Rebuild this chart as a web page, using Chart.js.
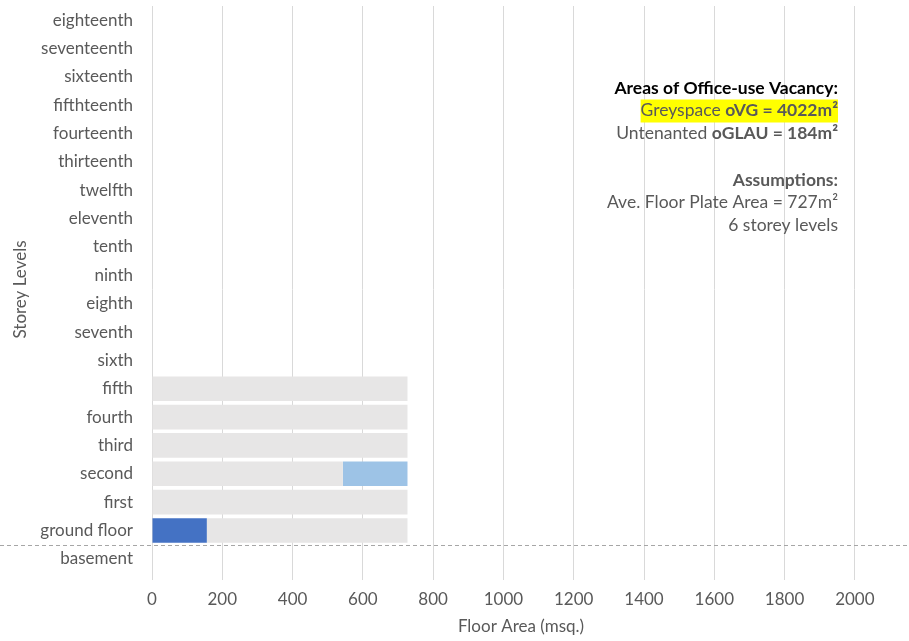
<!DOCTYPE html>
<html>
<head>
<meta charset="utf-8">
<script src="https://cdn.jsdelivr.net/npm/chart.js@4"></script>
<style>
  html, body { margin: 0; padding: 0; background: #fff; }
  #wrap { width: 909px; height: 641px; }
</style>
</head>
<body>
<div id="wrap"><canvas id="floorChart" width="909" height="641"></canvas></div>
<script>
const storeys = ["eighteenth","seventeenth","sixteenth","fifthteenth","fourteenth","thirteenth","twelfth","eleventh","tenth","ninth","eighth","seventh","sixth","fifth","fourth","third","second","first","ground floor","basement"];
// occupied (dark blue), greyspace (grey), untenanted (light blue)
const occupied   = [0,0,0,0,0,0,0,0,0,0,0,0,0, 0,  0,  0,  0,  0,  156,0];
const greyspace  = [0,0,0,0,0,0,0,0,0,0,0,0,0,727,727,727,543,727,571,0];
const untenanted = [0,0,0,0,0,0,0,0,0,0,0,0,0, 0,  0,  0,  184,0,  0,  0];
const xTicks = [0,200,400,600,800,1000,1200,1400,1600,1800,2000];
const noteLines = [
    [{t: "Areas of Office-use Vacancy:", bold: true, color: "#000000"}],
    [{t: "Greyspace ", bold: false, color: "#595959"}, {t: "oVG = 4022m²", bold: true, color: "#595959"}],
    [{t: "Untenanted ", bold: false, color: "#595959"}, {t: "oGLAU = 184m²", bold: true, color: "#595959"}],
    [],
    [{t: "Assumptions:", bold: true, color: "#595959"}],
    [{t: "Ave. Floor Plate Area = 727m²", bold: false, color: "#595959"}],
    [{t: "6 storey levels", bold: false, color: "#595959"}]
];

const FONT = "Lato, 'Open Sans', sans-serif";
const TXT = "#595959";
const NOTE_SIZE = 17.5;

const notesPlugin = {
    id: "notes",
    afterDraw(chart) {
        const ctx = chart.ctx;
        const y = chart.scales.y;
        // dashed ground line between ground floor and basement
        const gy = (y.getPixelForValue(18) + y.getPixelForValue(19)) / 2;
        ctx.save();
        ctx.strokeStyle = "#a6a6a6";
        ctx.lineWidth = 1;
        ctx.setLineDash([4, 3]);
        ctx.beginPath();
        ctx.moveTo(0, Math.round(gy) + 0.5);
        ctx.lineTo(chart.width, Math.round(gy) + 0.5);
        ctx.stroke();
        ctx.setLineDash([]);

        // notes box, right aligned
        const right = 838;
        let ly = 88;
        ctx.textBaseline = "middle";
        noteLines.forEach((parts, i) => {
            const widths = parts.map(p => {
                ctx.font = (p.bold ? "bold " : "") + NOTE_SIZE + "px " + FONT;
                return ctx.measureText(p.t).width;
            });
            const total = widths.reduce((a, b) => a + b, 0);
            let x = right - total;
            if (i === 1) {
                ctx.fillStyle = "#ffff00";
                ctx.fillRect(x, ly - 11, total, 23);
            }
            parts.forEach((p, k) => {
                ctx.font = (p.bold ? "bold " : "") + NOTE_SIZE + "px " + FONT;
                ctx.fillStyle = p.color;
                ctx.textAlign = "left";
                ctx.fillText(p.t, x, ly);
                x += widths[k];
            });
            ly += i === 2 ? 24.5 : 22.5;
        });
        ctx.restore();
    }
};

new Chart(document.getElementById("floorChart"), {
    type: "bar",
    data: {
        labels: storeys,
        datasets: [
            {label: "Occupied", data: occupied, backgroundColor: "#4472c4"},
            {label: "Greyspace", data: greyspace, backgroundColor: "#e7e6e6"},
            {label: "Untenanted", data: untenanted, backgroundColor: "#9dc3e6"}
        ]
    },
    options: {
        indexAxis: "y",
        responsive: false,
        animation: false,
        barPercentage: 0.87,
        categoryPercentage: 1,
        layout: {padding: {left: 10, right: 19, top: 6, bottom: 0}},
        plugins: {legend: {display: false}, tooltip: {enabled: false}},
        scales: {
            x: {
                stacked: true,
                min: 0, max: 2100,
                afterBuildTicks: axis => { axis.ticks = xTicks.map(v => ({value: v})); },
                afterFit: axis => { axis.height = 68; axis.paddingLeft = 0; axis.paddingRight = 0; },
                grid: {color: "#d9d9d9", tickLength: 7, drawTicks: true, tickColor: "#d9d9d9"},
                border: {display: false},
                ticks: {color: TXT, font: {family: FONT, size: 17}, padding: 9, maxRotation: 0,
                        callback: v => String(v)},
                title: {display: true, text: "Floor Area (msq.)", color: TXT, font: {family: FONT, size: 17}, padding: {top: 4, bottom: 4}}
            },
            y: {
                stacked: true,
                afterFit: axis => { axis.width = 142; axis.paddingTop = 0; axis.paddingBottom = 0; },
                grid: {display: false},
                border: {display: false},
                ticks: {color: TXT, font: {family: FONT, size: 17}, padding: 11, autoSkip: false},
                title: {display: true, text: "Storey Levels", color: TXT, font: {family: FONT, size: 17}, padding: {top: 0, bottom: 0}}
            }
        }
    },
    plugins: [notesPlugin]
});
</script>
</body>
</html>
